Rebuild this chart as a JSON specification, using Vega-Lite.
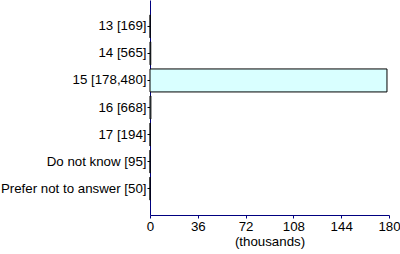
{
  "$schema": "https://vega.github.io/schema/vega-lite/v6.json",
  "width": 239,
  "height": 215,
  "autosize": {"type": "none"},
  "padding": {"left": 150, "top": 0, "right": 11, "bottom": 39},
  "background": "white",
  "config": {"view": {"stroke": null}, "font": "Liberation Sans"},
  "data": {"values": [
    {"label": "13 [169]", "value": 0.169},
    {"label": "14 [565]", "value": 0.565},
    {"label": "15 [178,480]", "value": 178.48},
    {"label": "16 [668]", "value": 0.668},
    {"label": "17 [194]", "value": 0.194},
    {"label": "Do not know [95]", "value": 0.095},
    {"label": "Prefer not to answer [50]", "value": 0.05}
  ]},
  "mark": {"type": "bar", "fill": "#d9ffff", "stroke": "black", "strokeWidth": 1},
  "encoding": {
    "y": {
      "field": "label", "type": "nominal", "sort": null,
      "scale": {"paddingInner": 0.15, "paddingOuter": 0.55},
      "axis": {"title": null, "domainColor": "#000080", "tickColor": "black", "tickSize": 3,
               "labelFontSize": 13.3, "labelColor": "black", "labelPadding": 1, "grid": false}
    },
    "x": {
      "field": "value", "type": "quantitative",
      "scale": {"domain": [0, 180], "nice": false},
      "axis": {"values": [0, 36, 72, 108, 144, 180], "title": "(thousands)", "titleFontWeight": "normal",
               "titleFontSize": 13.3, "titleColor": "black", "titlePadding": 2,
               "domainColor": "#000080", "tickColor": "#000080", "tickSize": 3,
               "labelFontSize": 13.3, "labelColor": "black", "labelPadding": 1, "grid": false, "labelFlush": false}
    }
  }
}
